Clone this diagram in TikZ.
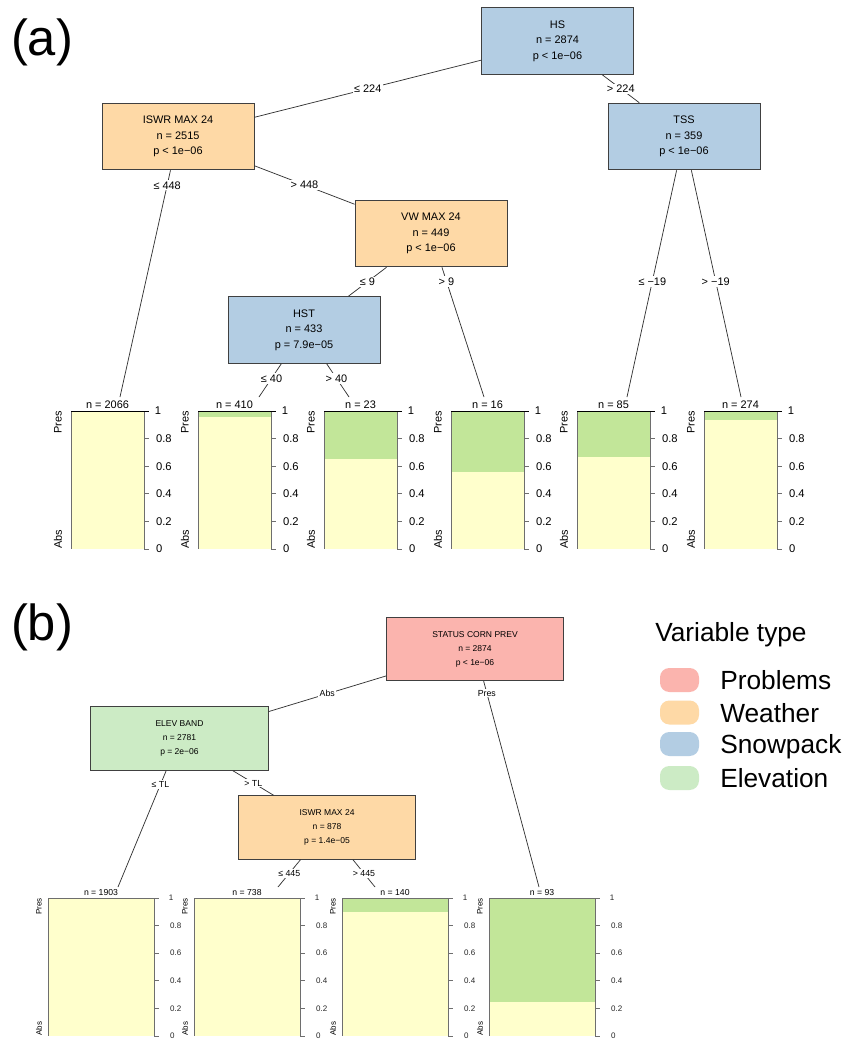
\documentclass[tikz,border=0pt]{standalone}
\usepackage{fontspec}
\setmainfont{Liberation Sans}
\usepackage{tikz}
\definecolor{VTProb}{HTML}{FBB4AE}
\definecolor{VTWeat}{HTML}{FED9A6}
\definecolor{VTSnow}{HTML}{B3CDE3}
\definecolor{VTElev}{HTML}{CCEBC5}
\definecolor{LFAbs}{HTML}{FFFFCC}
\definecolor{LFPres}{HTML}{C2E699}
\definecolor{LFAxis}{HTML}{6E6E6E}

\begin{document}
\begin{tikzpicture}[x=0.75pt,y=-0.75pt,
  vbox/.style={draw=black!75,line width=.7pt,minimum width=114pt,minimum height=50pt,
    align=center,inner sep=0pt,font=\fontsize{8.2}{11.6}\selectfont},
  vboxb/.style={vbox,minimum width=133pt,minimum height=47.5pt,font=\fontsize{6.4}{10.5}\selectfont},
  elbl/.style={fill=white,inner sep=1pt,font=\fontsize{8.2}{9}\selectfont},
  elblb/.style={elbl,font=\fontsize{6.6}{7}\selectfont},
  conn/.style={draw=black!80,line width=.55pt},
  axisln/.style={LFAxis,line width=.7pt},
  tickl/.style={inner sep=0pt,anchor=west,xshift=5pt,text=black,font=\fontsize{8.4}{9}\selectfont},
  ticklb/.style={tickl,xshift=3pt,text=black!85,font=\fontsize{6}{7}\selectfont},
  sidel/.style={rotate=90,inner sep=0pt,font=\fontsize{8.2}{9}\selectfont},
  sidelb/.style={sidel,font=\fontsize{6}{7}\selectfont},
  lgnd/.style={anchor=base west,inner sep=0pt,font=\fontsize{19.7}{22}\selectfont}]
\path[use as bounding box] (0,0) rectangle (845,1039);
\fill[white] (0,0) rectangle (845,1039);

% panel (a)
\node[font=\fontsize{38}{40}\selectfont] (pnla) at (42,42) {(a)};
\node[vbox,fill=VTSnow] (hs) at (557.5,41) {HS\\n = 2874\\p < 1e−06};
\node[vbox,fill=VTWeat] (iswra) at (178,136.5) {ISWR MAX 24\\n = 2515\\p < 1e−06};
\node[vbox,fill=VTSnow] (tss) at (684,136.5) {TSS\\n = 359\\p < 1e−06};
\node[vbox,fill=VTWeat] (vw) at (431,233.5) {VW MAX 24\\n = 449\\p < 1e−06};
\node[vbox,fill=VTSnow] (hst) at (304,330) {HST\\n = 433\\p = 7.9e−05};
\coordinate (ta1) at (120,397);
\coordinate (ta2) at (259,397);
\coordinate (ta3) at (349,397);
\coordinate (ta4) at (484,397);
\coordinate (ta5) at (627,397);
\coordinate (ta6) at (741,397);
\draw[conn] (hs) -- node[elbl]{≤ 224} (iswra);
\draw[conn] (hs) -- node[elbl]{> 224} (tss);
\draw[conn] (iswra) -- node[elbl,pos=.066]{≤ 448} (ta1);
\draw[conn] (iswra) -- node[elbl]{> 448} (vw);
\draw[conn] (vw) -- node[elbl]{≤ 9} (hst);
\draw[conn] (vw) -- node[elbl,pos=.108]{> 9} (ta4);
\draw[conn] (hst) -- node[elbl,pos=.44]{≤ 40} (ta2);
\draw[conn] (hst) -- node[elbl,pos=.44]{> 40} (ta3);
\draw[conn] (tss) -- node[elbl,pos=.49]{≤ −19} (ta5);
\draw[conn] (tss) -- node[elbl,pos=.49]{> −19} (ta6);
\foreach \lx/\pr/\nn [count=\i] in {71/0/2066,198/0.04/410,324/0.35/23,451/0.44/16,577/0.33/85,704/0.065/274}{
  \fill[LFAbs] (\lx,411) rectangle ++(73,138);
  \fill[LFPres] (\lx,411) rectangle ++(73,\pr*138);
  \draw[axisln] (\lx,411) -- ++(0,138);
  \draw[axisln] (\lx+73,411) -- ++(0,138);
  \foreach \v in {0,0.2,0.4,0.6,0.8}
    \draw[axisln] (\lx+73,549-\v*138) -- ++(5,0) node[tickl]{\v};
  \draw[black,line width=.7pt] (\lx,411) -- ++(78,0) node[tickl,xshift=-1pt]{1};
  \node[anchor=base,inner sep=0pt,font=\fontsize{8.2}{9}\selectfont] (na\i) at (\lx+36.5,408) {n = \nn};
  \node[sidel,anchor=east] (pa\i) at (\lx-13,411) {Pres};
  \node[sidel,anchor=west] (aa\i) at (\lx-13,549) {Abs};
}

% panel (b)
\node[font=\fontsize{38}{40}\selectfont] (pnlb) at (42,627) {(b)};
\node[vboxb,fill=VTProb] (stat) at (475,649) {STATUS CORN PREV\\n = 2874\\p < 1e−06};
\node[vboxb,fill=VTElev] (elev) at (179.5,738.5) {ELEV BAND\\n = 2781\\p = 2e−06};
\node[vboxb,fill=VTWeat] (iswrb) at (327,827.5) {ISWR MAX 24\\n = 878\\p = 1.4e−05};
\coordinate (tb1) at (118,887);
\coordinate (tb2) at (278,887);
\coordinate (tb3) at (375,887);
\coordinate (tb4) at (539,887);
\draw[conn] (stat) -- node[elblb]{Abs} (elev);
\draw[conn] (stat) -- node[elblb,pos=.058]{Pres} (tb4);
\draw[conn] (elev) -- node[elblb,pos=.12]{≤ TL} (tb1);
\draw[conn] (elev) -- node[elblb]{> TL} (iswrb);
\draw[conn] (iswrb) -- node[elblb]{≤ 445} (tb2);
\draw[conn] (iswrb) -- node[elblb]{> 445} (tb3);
\foreach \lx/\pr/\nn [count=\i] in {48/0/1903,194/0/738,342/0.10/140,489/0.75/93}{
  \fill[LFAbs] (\lx,898) rectangle ++(106,138);
  \fill[LFPres] (\lx,898) rectangle ++(106,\pr*138);
  \draw[axisln] (\lx,898) -- ++(0,138);
  \draw[axisln] (\lx+106,898) -- ++(0,138);
  \foreach \v in {0,0.2,0.4,0.6,0.8}
    \draw[axisln] (\lx+106,1036-\v*138) -- ++(5,0) node[ticklb]{\v};
  \draw[axisln] (\lx,898) -- ++(111,0) node[ticklb,xshift=-1pt]{1};
  \node[anchor=base,inner sep=0pt,font=\fontsize{6.5}{7}\selectfont] (nb\i) at (\lx+53,895) {n = \nn};
  \node[sidelb,anchor=east] (pb\i) at (\lx-9,898) {Pres};
  \node[sidelb,anchor=west] (ab\i) at (\lx-9,1036) {Abs};
}

% legend
\node[lgnd] (vtitle) at (655,641) {Variable type};
\foreach \c/\t/\y [count=\i] in {VTProb/Problems/680,VTWeat/Weather/712.5,VTSnow/Snowpack/744,VTElev/Elevation/778}{
  \fill[\c,rounded corners=7pt] (660,\y-12) rectangle (699,\y+12);
  \node[lgnd] (vt\i) at (720,\y+9.5) {\t};
}
\end{tikzpicture}
\end{document}
